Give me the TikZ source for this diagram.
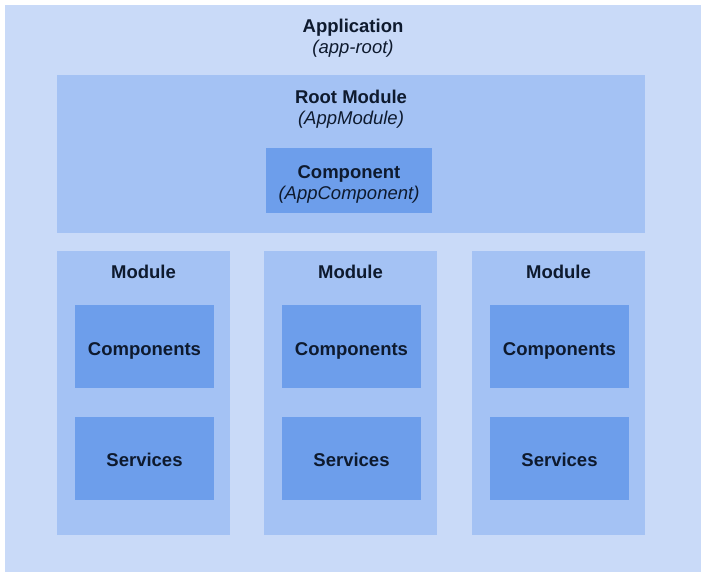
\documentclass[tikz,border=0pt]{standalone}
\usepackage{fontspec}
\setmainfont{Liberation Sans}
\usetikzlibrary{positioning}

\definecolor{applight}{HTML}{C9DAF8}
\definecolor{appmid}{HTML}{A4C2F4}
\definecolor{appdark}{HTML}{6D9EEB}
\definecolor{apptext}{HTML}{0E1A2E}

\tikzset{
  box/.style={anchor=north west, inner sep=0pt, outer sep=0pt},
  title/.style={anchor=base, text=apptext, font=\fontsize{18.5}{21}\selectfont\bfseries},
  subtitle/.style={anchor=base, text=apptext, font=\fontsize{18.5}{21}\selectfont\itshape}
}

\begin{document}
\begin{tikzpicture}[x=1pt, y=-1pt]

    \useasboundingbox (0,0) rectangle (709,581);

    % Application
    \node[box, fill=applight, minimum width=696pt, minimum height=567pt] (app) at (5,5) {};
    \node[title] (apptitle) at (353,32) {Application};
    \node[subtitle] (appsub) at (353,53) {(app-root)};

    % Root module
    \node[box, fill=appmid, minimum width=588pt, minimum height=158pt] (root) at (57,75) {};
    \node[title] (roottitle) at (351,103) {Root Module};
    \node[subtitle] (rootsub) at (351,124) {(AppModule)};

    % Component
    \node[box, fill=appdark, minimum width=166pt, minimum height=65pt] (comp) at (266,148) {};
    \node[title] (comptitle) at (349,178) {Component};
    \node[subtitle] (compsub) at (349,199) {(AppComponent)};

    % Modules
    \foreach \i/\x in {1/57, 2/264, 3/472} {
        \node[box, fill=appmid, minimum width=173pt, minimum height=284pt] (mod\i) at (\x,251) {};
        \node[title] (modtitle\i) at (\x+86.5,278) {Module};
        \node[box, fill=appdark, minimum width=139pt, minimum height=83pt] (comps\i) at (\x+18,305) {};
        \node[title] (compstitle\i) at (\x+87.5,355) {Components};
        \node[box, fill=appdark, minimum width=139pt, minimum height=83pt] (serv\i) at (\x+18,417) {};
        \node[title] (servtitle\i) at (\x+87.5,466) {Services};
    }

\end{tikzpicture}
\end{document}
